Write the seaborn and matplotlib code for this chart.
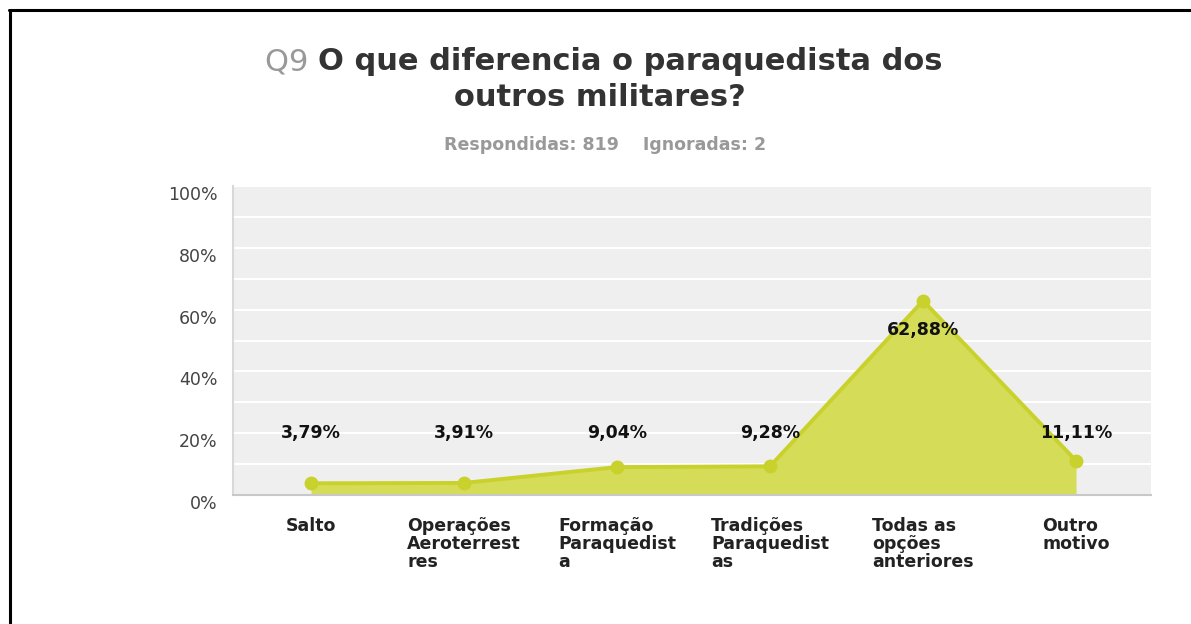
import matplotlib
matplotlib.use("Agg")
import matplotlib.pyplot as plt
import seaborn as sns
import pandas as pd
from matplotlib.lines import Line2D

categories = ["Salto", "Operações\nAeroterrest\nres", "Formação\nParaquedist\na",
              "Tradições\nParaquedist\nas", "Todas as\nopções\nanteriores", "Outro\nmotivo"]
values = [3.79, 3.91, 9.04, 9.28, 62.88, 11.11]
value_labels = ["3,79%", "3,91%", "9,04%", "9,28%", "62,88%", "11,11%"]
y_ticks = [0, 20, 40, 60, 80, 100]
y_tick_labels = ["0%", "20%", "40%", "60%", "80%", "100%"]
title_prefix = "Q9"
title_line1 = "O que diferencia o paraquedista dos"
title_line2 = "outros militares?"
subtitle = "Respondidas: 819    Ignoradas: 2"

sns.set_style("white")
plt.rcParams['font.family'] = ['DejaVu Sans']

df = pd.DataFrame({"idx": list(range(len(categories))), "value": values})

fig = plt.figure(figsize=(11.91, 6.24), dpi=100)
ax = fig.add_axes([233/1191, 1-495/624, (1151-233)/1191, (495-186)/624])
ax.set_facecolor("#efefef")

line_col = "#c9d22c"
fill_col = "#d5dc57"
ax.fill_between(df["idx"], 0, df["value"], color=fill_col, zorder=2, linewidth=0)
sns.lineplot(data=df, x="idx", y="value", ax=ax, color=line_col, linewidth=2.8,
             marker="o", markersize=10, markeredgewidth=0, zorder=3)

for i, (v, lab) in enumerate(zip(values, value_labels)):
    ly = v - 9.5 if v > 30 else 20
    ax.text(i, ly, lab, ha="center", va="center", fontsize=12.5, fontweight="bold",
            color="#111111", zorder=4)

ax.set_xlim(-0.51, 5.49)
ax.set_ylim(0, 100)
ax.set_yticks(y_ticks)
ax.set_yticks(range(10, 100, 20), minor=True)
ax.yaxis.grid(True, which="both", color="white", linewidth=1.5)
ax.set_axisbelow(True)
ax.set_yticklabels(y_tick_labels, fontsize=12.5, color="#444444")
for t in ax.get_yticklabels():
    t.set_verticalalignment("top")
ax.tick_params(axis="y", which="both", length=0, pad=11)
ax.set_xticks(df["idx"])
ax.set_xticklabels(categories, fontsize=12.5, fontweight="bold", color="#222222",
                   multialignment="left", linespacing=1.0)
ax.tick_params(axis="x", length=0, pad=16)
ax.set_xlabel("")
ax.set_ylabel("")
for s in ["top", "right"]:
    ax.spines[s].set_visible(False)
ax.spines["left"].set_color("#d8d8d8")
ax.spines["left"].set_linewidth(1.5)
ax.spines["bottom"].set_color("#c8c8c8")
ax.spines["bottom"].set_linewidth(1.5)

# Title with two colours
renderer = fig.canvas.get_renderer()
tsize = 22
t1 = fig.text(0, 0, title_prefix + " ", fontsize=tsize, color="#999999")
t2 = fig.text(0, 0, title_line1, fontsize=tsize, fontweight="bold", color="#333333")
w1 = t1.get_window_extent(renderer).width
w2 = t2.get_window_extent(renderer).width
cx = 604
y1 = 1 - 62/624
x0 = cx - (w1 + w2) / 2
t1.set_position((x0/1191, y1))
t1.set_va("center")
t2.set_position(((x0 + w1)/1191, y1))
t2.set_va("center")
fig.text(600/1191, 1 - 98/624, title_line2, fontsize=tsize, fontweight="bold",
         color="#333333", ha="center", va="center")
fig.text(605/1191, 1 - 145/624, subtitle, fontsize=12.5, fontweight="bold",
         color="#999999", ha="center", va="center")

# Frame lines
fig.add_artist(Line2D([9/1191, 1], [1 - 9.5/624, 1 - 9.5/624], color="black",
                      linewidth=2.2, transform=fig.transFigure))
fig.add_artist(Line2D([9.5/1191, 9.5/1191], [0, 1 - 9.5/624], color="black",
                      linewidth=2.2, transform=fig.transFigure))

fig.savefig("out.png", dpi=100)
